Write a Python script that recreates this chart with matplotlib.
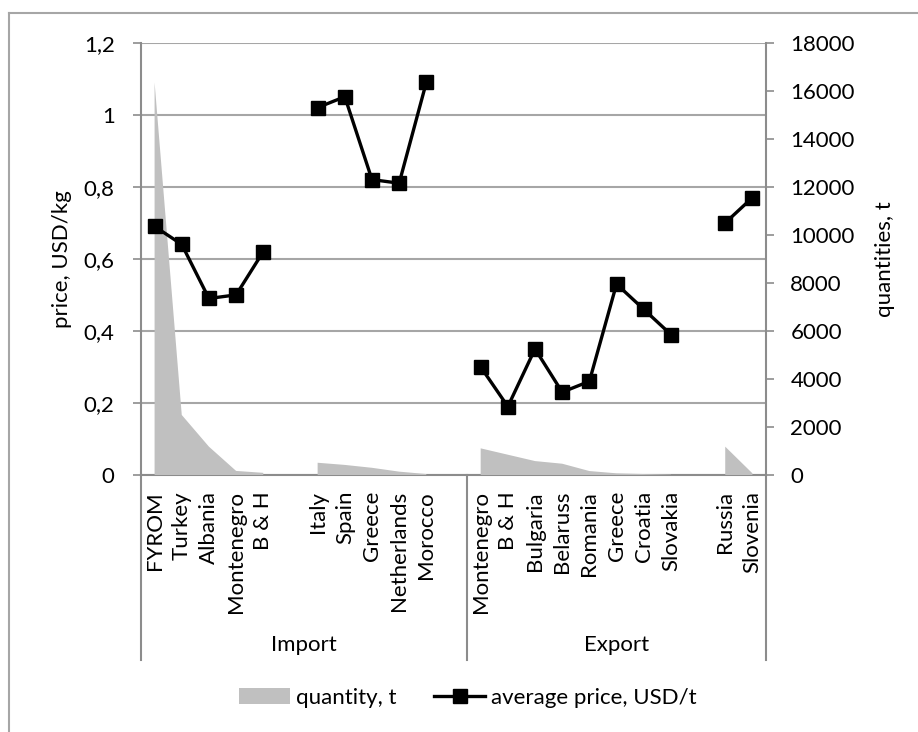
import numpy as np
import matplotlib
matplotlib.use("Agg")
import matplotlib.pyplot as plt
from matplotlib.lines import Line2D
from matplotlib.patches import Patch
from matplotlib.ticker import FuncFormatter, MultipleLocator
import matplotlib.transforms as mtransforms

plt.rcParams["font.family"] = ["Lato", "DejaVu Sans"]

# categories (blank slots separate the sub-groups, as in the source chart)
categories = ["FYROM", "Turkey", "Albania", "Montenegro", "B & H", "",
              "Italy", "Spain", "Greece", "Netherlands", "Morocco", "",
              "Montenegro", "B & H", "Bulgaria", "Belaruss", "Romania", "Greece",
              "Croatia", "Slovakia", "", "Russia", "Slovenia"]
groups = ["Import", "Export"]
group_sizes = [12, 11]

nan = np.nan
quantity_t = [16350, 2500, 1180, 170, 90, nan,
              510, 420, 300, 140, 40, nan,
              1110, 845, 580, 470, 165, 70, 40, 15, nan, 1180, 70]
price_usd_kg = [0.69, 0.64, 0.49, 0.50, 0.62, nan,
                1.02, 1.05, 0.82, 0.81, 1.09, nan,
                0.30, 0.19, 0.35, 0.23, 0.26, 0.53, 0.46, 0.39, nan, 0.70, 0.77]

GRID = "#a6a6a6"
SPINE = "#8c8c8c"
FS = 16

x = np.arange(len(categories))
q = np.array(quantity_t, dtype=float)
p = np.array(price_usd_kg, dtype=float)

fig = plt.figure(figsize=(9.18, 7.32), dpi=100)
ax = fig.add_axes([141 / 918, 257 / 732, 625 / 918, 432.3 / 732])
ax2 = ax.twinx()
ax3 = ax.twinx()

# left price axis: grid + ticks
ax.set_xlim(-0.5, len(categories) - 0.5)
ax.set_ylim(0, 1.2)
ax.yaxis.set_major_locator(MultipleLocator(0.2))
ax.yaxis.set_major_formatter(FuncFormatter(lambda v, _: f"{round(v, 1):g}".replace(".", ",")))
ax.grid(axis="y", color=GRID, lw=1.5)
ax.set_axisbelow(True)
for s in ["top", "right"]:
    ax.spines[s].set_visible(False)
for s in ["left", "bottom"]:
    ax.spines[s].set_color(SPINE)
    ax.spines[s].set_linewidth(1.5)
ax.tick_params(axis="y", direction="out", length=6, width=1.2, color=SPINE,
               pad=13, labelsize=FS)
ax.set_xticks(x)
ax.set_xticklabels(categories, rotation=90, fontsize=FS)
ax.tick_params(axis="x", length=0, pad=11.5)
ax.set_ylabel("price, USD/kg", fontsize=FS)
ax.yaxis.set_label_coords(-0.11, 0.5)

# right quantity axis with the area
ax2.set_ylim(0, 18000)
ax2.yaxis.set_major_locator(MultipleLocator(2000))
ax2.fill_between(x, 0, q, color="#c0c0c0", lw=0)
for s in ["top", "left", "bottom"]:
    ax2.spines[s].set_visible(False)
ax2.spines["right"].set_color(SPINE)
ax2.spines["right"].set_linewidth(1.5)
ax2.tick_params(axis="y", direction="out", length=6, width=1.2, color=SPINE,
                pad=11.5, labelsize=FS)
ax2.set_ylabel("quantities, t", fontsize=FS, rotation=90)
ax2.yaxis.set_label_coords(1.174, 0.5)
ax2.patch.set_visible(False)

# price line on top
ax3.set_ylim(0, 1.2)
ax3.plot(x, p, color="black", lw=2.4, marker="s", ms=9.5)
ax3.axis("off")

ax.set_zorder(1)
ax2.set_zorder(2)
ax3.set_zorder(3)
ax.patch.set_visible(False)

# multi-level category lines and group labels
trans = mtransforms.blended_transform_factory(ax.transData, ax.transAxes)
edges = np.concatenate([[0], np.cumsum(group_sizes)]) - 0.5
for e in edges:
    ax.plot([e, e], [0, -0.428], transform=trans, color=SPINE, lw=1.5, clip_on=False)
for g, a, b in zip(groups, edges[:-1], edges[1:]):
    ax.text((a + b) / 2, -0.393, g, transform=trans, ha="center", va="center", fontsize=FS)

handles = [Patch(facecolor="#c0c0c0", edgecolor="none"),
           Line2D([], [], color="black", lw=2.4, marker="s", ms=9.5)]
fig.legend(handles, ["quantity, t", "average price, USD/t"], loc="center",
           bbox_to_anchor=(468 / 918, 1 - 698 / 732), ncol=2, frameon=False,
           fontsize=FS, handlelength=2.3, handletextpad=0.25, columnspacing=1.7)

# outer chart border (only top and left visible in the crop)
fig.add_artist(Line2D([8.5 / 918, 8.5 / 918], [0, 1 - 13 / 732], transform=fig.transFigure,
                      color=GRID, lw=1.5))
fig.add_artist(Line2D([8.5 / 918, 1], [1 - 13 / 732, 1 - 13 / 732], transform=fig.transFigure,
                      color=GRID, lw=1.5))

fig.savefig("out.png", dpi=100)
